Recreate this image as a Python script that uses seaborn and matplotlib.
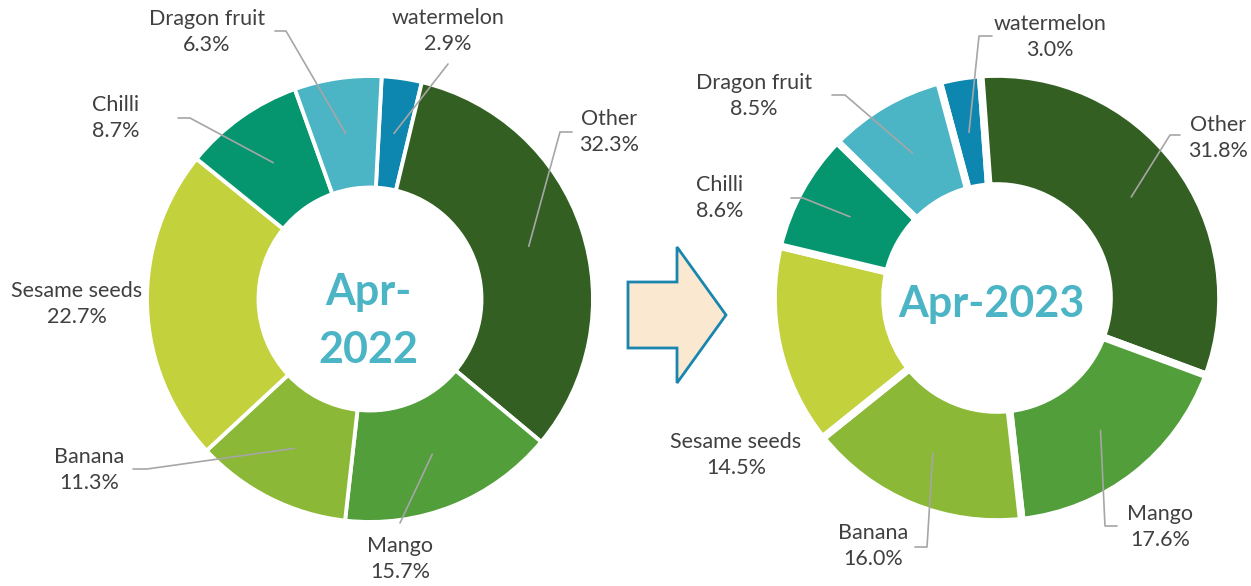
import numpy as np
import matplotlib.pyplot as plt
from matplotlib.patches import Polygon
import seaborn as sns

# ------------------------------
# Data
# ------------------------------
categories = ["watermelon", "Other", "Mango", "Banana", "Sesame seeds", "Chilli", "Dragon fruit"]
share_2022 = [2.9, 32.3, 15.7, 11.3, 22.7, 8.7, 6.3]
share_2023 = [3.0, 31.8, 17.6, 16.0, 14.5, 8.6, 8.5]
colors = ["#0E87B0", "#335F23", "#529E3A", "#8BB836", "#C2D13C", "#05966F", "#4BB4C5"]

# ------------------------------
# Layout (pixel coords, y measured from top)
# ------------------------------
W, H = 1251, 586
TEXT_C = "#404040"
LINE_C = "#A6A6A6"
TEAL = "#4BB4C5"

# label: (text x, text y, leader path from label side toward the slice)
labels_2022 = {
    "Dragon fruit": (207, 32, [(275, 31), (286, 31)]),
    "watermelon": (448, 31, [(448, 64)]),
    "Chilli": (116, 118, [(178, 118), (190, 118)]),
    "Other": (609, 132, [(572, 132), (560, 132)]),
    "Sesame seeds": (77, 304, None),
    "Banana": (89, 470, [(133, 469), (147, 469)]),
    "Mango": (400, 559, [(400, 523)]),
}
labels_2023 = {
    "watermelon": (1050, 37, [(992, 36), (979, 36)]),
    "Dragon fruit": (754, 96, [(832, 95), (845, 95)]),
    "Other": (1218, 138, [(1180, 135), (1170, 135)]),
    "Chilli": (720, 198, [(791, 198), (803, 198)]),
    "Sesame seeds": (736, 455, None),
    "Banana": (873, 546, [(915, 547), (927, 547)]),
    "Mango": (1160, 527, [(1117, 526), (1105, 526)]),
}

sns.set_theme(style="white")
plt.rcParams["font.family"] = ["Lato", "DejaVu Sans"]

fig = plt.figure(figsize=(W / 100, H / 100), dpi=100)
ax = fig.add_axes([0, 0, 1, 1])


def draw_donut(values, center, radius, start, edge_w, labels):
    cx, cy = center
    wedges, _ = ax.pie(values, colors=colors, startangle=start, counterclock=False,
                       center=(cx, H - cy), radius=radius,
                       wedgeprops=dict(width=radius * 0.5, edgecolor="white", linewidth=edge_w))
    for name, val, w in zip(categories, values, wedges):
        tx, ty, path = labels[name]
        ax.text(tx, H - ty, f"{name}\n{val:.1f}%", ha="center", va="center",
                fontsize=15.5, color=TEXT_C, linespacing=1.4)
        if path is None:
            continue
        mid = np.deg2rad((w.theta1 + w.theta2) / 2)
        ax_pt = (cx + 0.75 * radius * np.cos(mid), H - cy + 0.75 * radius * np.sin(mid))
        xs = [p[0] for p in path] + [ax_pt[0]]
        ys = [H - p[1] for p in path] + [ax_pt[1]]
        ax.plot(xs, ys, color=LINE_C, lw=1.2, zorder=5)


draw_donut(share_2022, (370, 299), 223, 87, 2.8, labels_2022)
draw_donut(share_2023, (997, 298), 224, 105, 5.5, labels_2023)

# centre captions
ax.text(368, H - 292, "Apr-", ha="center", va="center", fontsize=31, fontweight="bold", color=TEAL)
ax.text(368, H - 350, "2022", ha="center", va="center", fontsize=31, fontweight="bold", color=TEAL)
ax.text(991, H - 304, "Apr-2023", ha="center", va="center", fontsize=31, fontweight="bold", color=TEAL)

# block arrow between the two charts
arrow_pts = [(628, 282), (677, 282), (677, 247), (726, 315), (677, 383), (677, 348), (628, 348)]
ax.add_patch(Polygon([(x, H - y) for x, y in arrow_pts], closed=True,
                     facecolor="#FBE8D0", edgecolor="#1A86AD", linewidth=2))

ax.set_xlim(0, W)
ax.set_ylim(0, H)
ax.set_aspect("equal")
ax.axis("off")

fig.savefig("out.png", dpi=100)
